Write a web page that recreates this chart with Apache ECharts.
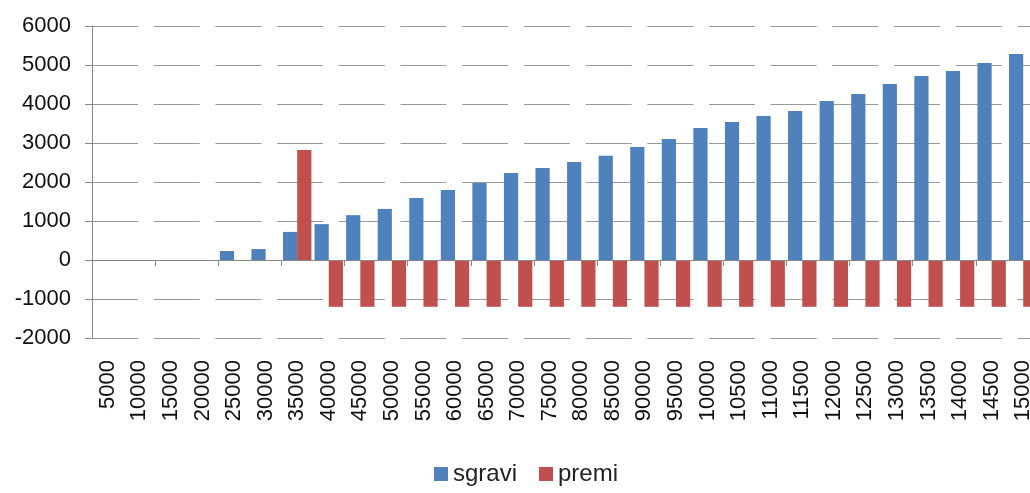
<!DOCTYPE html>
<html>
<head>
<meta charset="utf-8">
<script src="https://cdn.jsdelivr.net/npm/echarts@6/dist/echarts.min.js"></script>
<style>
  html, body { margin: 0; padding: 0; background: #fff; }
  #chart { width: 1030px; height: 493px; }
</style>
</head>
<body>
<div id="chart"></div>
<script>
// categorie (etichette come appaiono nel grafico)
const categories = ['5000', '10000', '15000', '20000', '25000', '30000', '35000', '40000', '45000', '50000',
  '55000', '60000', '65000', '70000', '75000', '80000', '85000', '90000', '95000', '10000',
  '10500', '11000', '11500', '12000', '12500', '13000', '13500', '14000', '14500', '15000'];
// serie
const sgravi = [0, 0, 0, 0, 230, 280, 720, 920, 1150, 1310,
  1590, 1795, 1975, 2230, 2360, 2510, 2670, 2900, 3100, 3385,
  3540, 3690, 3820, 4077, 4256, 4513, 4718, 4846, 5051, 5282];
const premi = [0, 0, 0, 0, 0, 0, 2820, -1200, -1200, -1200,
  -1200, -1200, -1200, -1200, -1200, -1200, -1200, -1200, -1200, -1200,
  -1200, -1200, -1200, -1200, -1200, -1200, -1200, -1200, -1200, -1200];

const myChart = echarts.init(document.getElementById('chart'));
const font = 'Liberation Sans';
myChart.setOption({
  animation: false,
  textStyle: { fontFamily: font },
  // la griglia esce a destra oltre il bordo, come nell'originale
  grid: { left: 92, width: 947, top: 26, bottom: 155, outerBoundsMode: 'none', containLabel: false },
  legend: {
    bottom: 2,
    left: 429,
    itemWidth: 14,
    itemHeight: 14,
    itemGap: 22,
    icon: 'rect',
    textStyle: { fontSize: 24, color: '#222', fontFamily: font },
    data: ['sgravi', 'premi']
  },
  xAxis: [
    {
      // asse sullo zero con tacche
      type: 'category',
      data: categories,
      axisLine: { onZero: true, lineStyle: { color: '#888', width: 1 } },
      axisTick: { show: true, length: 6, lineStyle: { color: '#888' } },
      axisLabel: { show: false },
      z: 5
    },
    {
      // solo etichette in basso
      type: 'category',
      data: categories,
      position: 'bottom',
      axisLine: { show: false, onZero: false },
      axisTick: { show: false },
      axisLabel: { rotate: 90, fontSize: 22, color: '#111', margin: 22, interval: 0 }
    }
  ],
  yAxis: {
    type: 'value',
    min: -2000,
    max: 6000,
    interval: 1000,
    axisLine: { show: true, lineStyle: { color: '#888' } },
    axisTick: { show: true, length: 7, lineStyle: { color: '#888' } },
    axisLabel: { fontSize: 22, color: '#111', margin: 21, formatter: v => String(v) },
    splitLine: {
      lineStyle: { color: '#999', width: 1, type: [46, 15.7] }
    }
  },
  series: [
    {
      name: 'sgravi',
      type: 'bar',
      data: sgravi,
      barGap: 0,
      barCategoryGap: '10%',
      itemStyle: { color: '#4F81BD' }
    },
    {
      name: 'premi',
      type: 'bar',
      data: premi,
      itemStyle: { color: '#C0504D' }
    }
  ]
});
</script>
</body>
</html>
